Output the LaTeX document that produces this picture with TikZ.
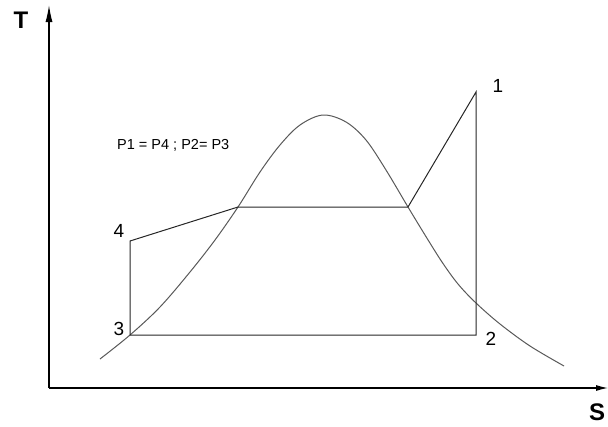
\documentclass[tikz,border=0pt]{standalone}
\usepackage{fontspec}
\setmainfont{Liberation Sans}
\usetikzlibrary{arrows.meta}
\begin{document}
\begin{tikzpicture}[x=1pt,y=-1pt,
  axis/.style={line width=1.2pt,black},
  cycleline/.style={line width=1pt,black!85},
  domeline/.style={line width=1pt,black!65},
  ptlabel/.style={font=\fontsize{19}{19}\selectfont,inner sep=0pt},
  axlabel/.style={font=\bfseries\fontsize{24}{24}\selectfont,inner sep=0pt}]
\useasboundingbox (0,0) rectangle (608,426);
% axes
\coordinate (O) at (49,388);
\coordinate (Ttop) at (49,5);
\coordinate (Send) at (608,388);
\draw[axis,-{Latex[length=17pt,width=7pt]}] (O) -- (Ttop);
\draw[axis,-{Latex[length=12pt,width=6pt]}] (O) -- (Send);
\node[axlabel] (T) at (21,20) {T};
\node[axlabel] (S) at (597,412) {S};
% dome
\draw[domeline] plot[smooth,tension=0.55] coordinates {(100,359) (130,335) (160,307) (190,272) (215,240) (238,207) (260,172) (280,145) (300,125) (323,115) (346,122) (366,140) (386,170) (408,207) (425,235) (442,262) (458,284) (476,303) (500,324) (530,346) (564,366)};
% cycle points
\coordinate (p3) at (130,335);
\coordinate (p4) at (130,241);
\coordinate (pa) at (238,207);
\coordinate (pb) at (408,207);
\coordinate (p1) at (476,92);
\coordinate (p2) at (476,335);
\draw[cycleline] (p3) -- (p4) -- (pa) -- (pb) -- (p1) -- (p2) -- cycle;
% labels
\node[ptlabel] (l1) at (498,86) {1};
\node[ptlabel] (l2) at (491,339) {2};
\node[ptlabel] (l3) at (119,329) {3};
\node[ptlabel] (l4) at (119,231) {4};
\node[anchor=west,inner sep=0pt,font=\fontsize{14.5}{14.5}\selectfont] (eq) at (117,145) {P1 = P4 ; P2= P3};
\end{tikzpicture}
\end{document}
